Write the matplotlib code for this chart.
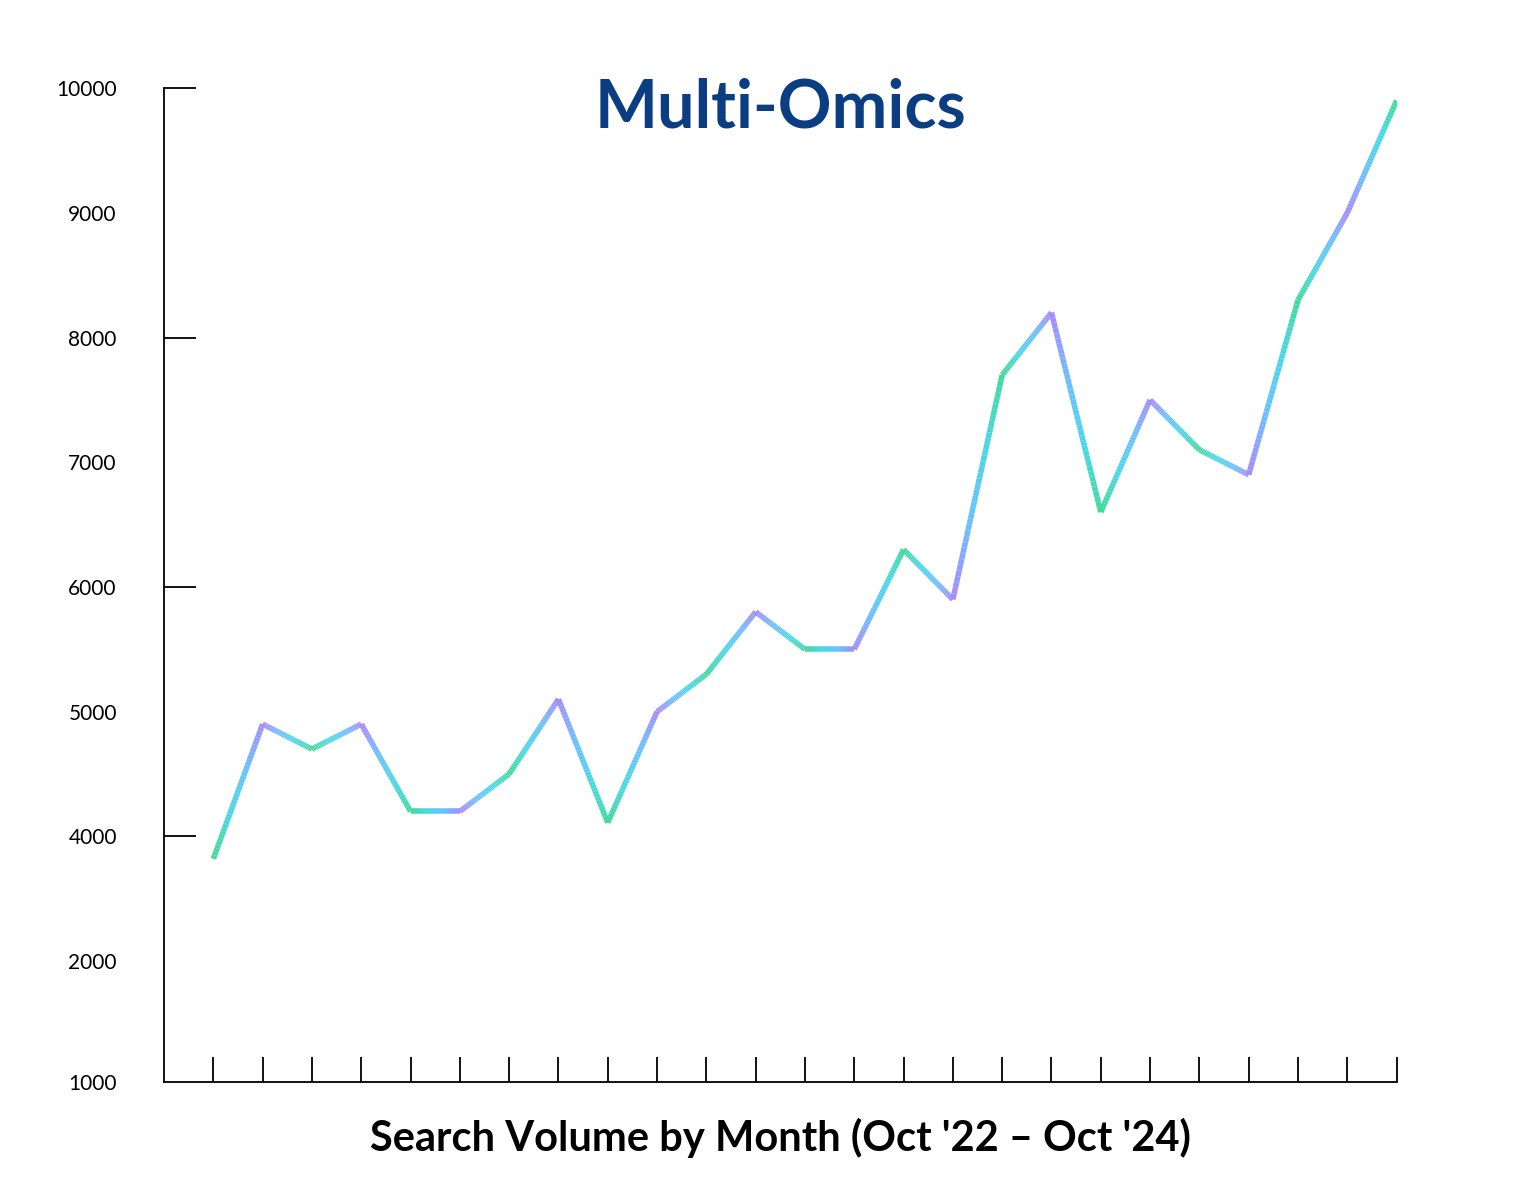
"""Multi-Omics search volume line chart."""

import matplotlib
matplotlib.use("Agg")
import matplotlib.pyplot as plt
import numpy as np
from matplotlib.collections import LineCollection
from matplotlib.colors import LinearSegmentedColormap

months = list(range(25))
volume = [3820, 4900, 4700, 4900, 4200, 4200, 4500, 5100, 4110, 5000, 5300, 5800, 5500,
          5500, 6300, 5900, 7700, 8200, 6600, 7500, 7100, 6900, 8300, 9000, 9900]
ytick_pos = [2030, 3000, 4000, 5000, 6000, 7000, 8000, 9000, 10000]
ytick_labels = ["1000", "2000", "4000", "5000", "6000", "7000", "8000", "9000", "10000"]

plt.rcParams["font.family"] = ["Lato", "DejaVu Sans"]
cmap = LinearSegmentedColormap.from_list("grad", ["#45d99c", "#4bd8e6", "#6cc0ff", "#a88cfa"])

fig = plt.figure(figsize=(15.33, 11.96), dpi=100)
ax = fig.add_axes([0.107, 0.0953, 0.804, 0.831])

# each segment gets its own gradient, alternating direction
for i in range(len(months) - 1):
    t = np.linspace(0, 1, 40)
    xs = months[i] + t * (months[i + 1] - months[i])
    ys = volume[i] + t * (volume[i + 1] - volume[i])
    pts = np.column_stack([xs, ys]).reshape(-1, 1, 2)
    segs = np.concatenate([pts[:-1], pts[1:]], axis=1)
    c = t[:-1] if i % 2 == 0 else 1 - t[:-1]
    lc = LineCollection(segs, colors=cmap(c), linewidth=4, capstyle="butt")
    ax.add_collection(lc)

ax.set_xlim(-1, 24)
ax.set_ylim(2030, 10000)
ax.set_xticks(months)
ax.set_xticklabels([])
ax.tick_params(axis="x", direction="in", length=18, width=1.3)
ax.yaxis.remove_overlapping_locs = False
ax.set_yticks(ytick_pos)
ax.set_yticklabels(ytick_labels, fontsize=15)
ax.set_yticks([4000, 6000, 8000, 10000], minor=True)
ax.tick_params(axis="y", which="major", length=0, pad=34)
ax.tick_params(axis="y", which="minor", direction="in", length=23, width=1.3)
for side in ["top", "right"]:
    ax.spines[side].set_visible(False)
for side in ["left", "bottom"]:
    ax.spines[side].set_linewidth(1.3)

ax.text(0.5, 0.98, "Multi-Omics", transform=ax.transAxes, ha="center", va="center",
        fontsize=48, fontweight="bold", color="#0b3d82")
ax.set_xlabel("Search Volume by Month (Oct '22 \u2013 Oct '24)", fontsize=30,
              fontweight="bold", labelpad=22)

fig.savefig("out.png", dpi=100)
